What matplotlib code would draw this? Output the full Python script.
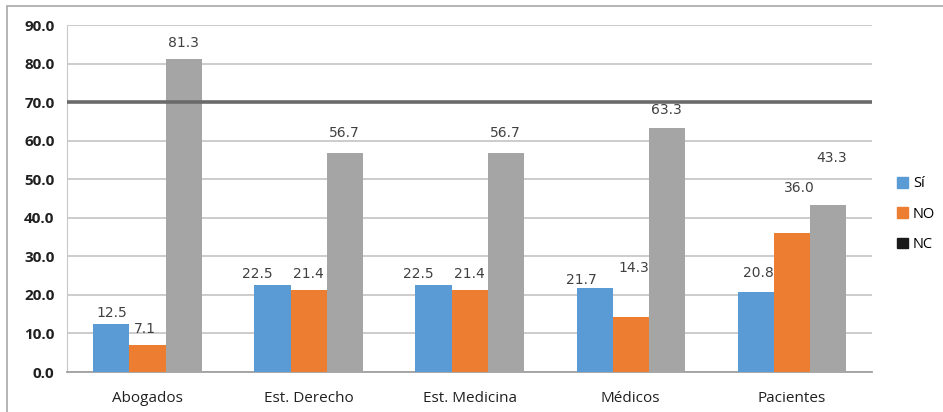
import matplotlib.pyplot as plt
import numpy as np
from matplotlib.patches import Patch, Rectangle

# Datos por grupo
grupos = ['Abogados', 'Est. Derecho', 'Est. Medicina', 'Médicos', 'Pacientes']
si = [12.5, 22.5, 22.5, 21.7, 20.8]
no = [7.1, 21.4, 21.4, 14.3, 36.0]
nc = [81.3, 56.7, 56.7, 63.3, 43.3]
series_nombres = ['Sí', 'NO', 'NC']
referencia = 70.0

colores = ['#5b9bd5', '#ed7d31', '#a5a5a5']

# desplazamiento de cada etiqueta respecto al tope de la barra (dx, dy en píxeles)
desp = [
    [(0, 11), (-3, 16), (0, 16)],
    [(-15, 11), (0, 16), (0, 20)],
    [(-15, 11), (0, 16), (0, 20)],
    [(-13, 8), (3, 49), (0, 18)],
    [(3, 19), (8, 45), (4, 47)],
]

fig = plt.figure(figsize=(9.43, 4.12), dpi=100)
ax = fig.add_axes([0.071, 0.097, 0.854, 0.842])

x = np.arange(len(grupos))
ancho = 0.224
for k, (vals, col) in enumerate(zip([si, no, nc], colores)):
    pos = x + (k - 1) * ancho
    ax.bar(pos, vals, width=ancho, color=col, zorder=3, label=series_nombres[k])
    for i, v in enumerate(vals):
        dx, dy = desp[i][k]
        ax.annotate(f'{v:.1f}', (pos[i], v), xytext=(dx * 0.72, dy * 0.72),
                    textcoords='offset points', ha='center', va='center',
                    fontsize=10, color='#404040', family='DejaVu Sans', zorder=2)

ax.axhline(referencia, color='#6a6a6a', lw=2.6, zorder=4)

ax.set_xlim(-0.5, len(grupos) - 0.5)
ax.set_ylim(0, 90)
ax.set_yticks(np.arange(0, 91, 10))
ax.set_yticklabels([f'{t:.1f}' for t in np.arange(0, 91, 10)],
                   fontsize=11, fontweight='bold', family='Open Sans', color='#202020')
ax.set_xticks(x)
ax.set_xticklabels(grupos, fontsize=11, family='Open Sans', color='#202020')
ax.tick_params(axis='both', length=0)
ax.tick_params(axis='y', pad=9)
ax.tick_params(axis='x', pad=14)
ax.yaxis.grid(True, color='#c8c8c8', lw=1.3, zorder=0)
for s in ['top', 'right']:
    ax.spines[s].set_visible(False)
ax.spines['left'].set_color('#c8c8c8')
ax.spines['bottom'].set_color('#a0a0a0')
ax.spines['bottom'].set_linewidth(1.3)

manejadores = [Patch(color=colores[0]), Patch(color=colores[1]), Patch(color='#1a1a1a')]
fig.legend(manejadores, series_nombres, loc='center left',
           bbox_to_anchor=(0.937, 0.48), frameon=False,
           handlelength=0.75, handleheight=0.75, handletextpad=0.35,
           labelspacing=1.05, prop={'family': 'Open Sans', 'size': 10.5})

# marco exterior
fig.patches.append(Rectangle((7 / 943, -0.1), 1.1, 1.1 - 6 / 412,
                             transform=fig.transFigure, fill=False,
                             edgecolor='#a8a8a8', lw=1.2))

fig.savefig('out.png', dpi=100)
